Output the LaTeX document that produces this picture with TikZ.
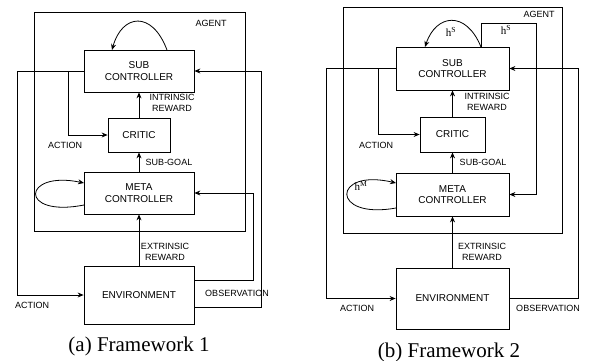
\documentclass[tikz,border=0pt]{standalone}
\usepackage{fontspec}
\setsansfont{Liberation Sans}
\setmainfont{Liberation Serif}
\usetikzlibrary{arrows.meta}
\begin{document}
\begin{tikzpicture}[x=1pt,y=-1pt,
  box/.style={draw, line width=0.8pt, font=\sffamily\fontsize{10}{11.5}\selectfont, align=center, inner sep=0pt},
  frame/.style={draw, line width=0.8pt, inner sep=0pt},
  lbl/.style={font=\sffamily\fontsize{9}{10.5}\selectfont, align=center, inner sep=0pt},
  hl/.style={font=\rmfamily\fontsize{11}{12}\selectfont, inner sep=0pt},
  captext/.style={font=\rmfamily\fontsize{21}{24}\selectfont, inner sep=0pt},
  arr/.style={line width=0.8pt, -{Stealth[length=6pt,width=5pt]}}]
\useasboundingbox (0,0) rectangle (589,361);

% ---------- Panel (a) ----------
\node[frame, minimum width=211pt, minimum height=219pt] (agentA) at (139.5,121.5) {};
\node[box, minimum width=110pt, minimum height=42pt] (subA) at (139,71) {SUB\\CONTROLLER};
\node[box, minimum width=62pt, minimum height=34pt] (criticA) at (139,135) {CRITIC};
\node[box, minimum width=110pt, minimum height=42pt] (metaA) at (139,193) {META\\CONTROLLER};
\node[box, minimum width=110pt, minimum height=58pt] (envA) at (139,295) {ENVIRONMENT};

\coordinate (laA) at (17,71);
\coordinate (brA) at (68,71);
\coordinate (raA) at (261,307);
\coordinate (obA) at (253,280);
\coordinate (s1A) at (167,50);
\coordinate (s2A) at (112,50);
\coordinate (m1A) at (84,205);
\coordinate (m2A) at (84,183);

\draw[arr] (criticA.north) -- (subA.south);
\draw[arr] (metaA.north) -- (criticA.south);
\draw[arr] (envA.north) -- (metaA.south);
\draw[arr] (subA.west) -- (laA) |- (envA.west);
\draw[arr] (brA) |- (criticA.west);
\draw[arr] (envA.east |- raA) -- (raA) |- (subA.east);
\draw[arr] (envA.east |- obA) -- (obA) |- (metaA.east);
\draw[arr] (s1A) .. controls (152,10) and (122,14) .. (s2A);
\draw[arr] (m1A) .. controls (18,218) and (22,170) .. (m2A);

\node[lbl] (agentlA) at (211,23) {AGENT};
\node[lbl] (intrA) at (172,103) {INTRINSIC\\REWARD};
\node[lbl] (act1A) at (65,145) {ACTION};
\node[lbl] (sgA) at (169,162) {SUB-GOAL};
\node[lbl] (extrA) at (165,252) {EXTRINSIC\\REWARD};
\node[lbl] (act2A) at (32,305) {ACTION};
\node[lbl] (obsA) at (237,293) {OBSERVATION};
\node[captext] (capA) at (139,346) {(a) Framework 1};

% ---------- Panel (b) ----------
\node[frame, minimum width=219pt, minimum height=226pt] (agentB) at (452.5,120) {};
\node[box, minimum width=113pt, minimum height=43pt] (subB) at (452.5,68.5) {SUB\\CONTROLLER};
\node[box, minimum width=65pt, minimum height=35pt] (criticB) at (452.5,134.5) {CRITIC};
\node[box, minimum width=113pt, minimum height=43pt] (metaB) at (452.5,194.5) {META\\CONTROLLER};
\node[box, minimum width=113pt, minimum height=61pt] (envB) at (452.5,298.5) {ENVIRONMENT};

\coordinate (laB) at (326,68.5);
\coordinate (brB) at (378,68.5);
\coordinate (raB) at (578,298.5);
\coordinate (s1B) at (481,47);
\coordinate (s2B) at (425,47);
\coordinate (hsB) at (536,23);
\coordinate (m1B) at (396,208);
\coordinate (m2B) at (396,183);

\draw[arr] (criticB.north) -- (subB.south);
\draw[arr] (metaB.north) -- (criticB.south);
\draw[arr] (envB.north) -- (metaB.south);
\draw[arr] (subB.west) -- (laB) |- (envB.west);
\draw[arr] (brB) |- (criticB.west);
\draw[arr] (envB.east) -- (raB) |- (subB.east);
\draw[arr] (s1B) |- (hsB) |- (metaB.east);
\draw[arr] (s1B) .. controls (466,10) and (436,14) .. (s2B);
\draw[arr] (m1B) .. controls (330,220) and (332,168) .. (m2B);

\node[lbl] (agentlB) at (539,14) {AGENT};
\node[hl] (hs1B) at (451,32) {h\textsuperscript{S}};
\node[hl] (hs2B) at (506,30) {h\textsuperscript{S}};
\node[hl] (hmB) at (361,186) {h\textsuperscript{M}};
\node[lbl] (intrB) at (487,102) {INTRINSIC\\REWARD};
\node[lbl] (act1B) at (376,145) {ACTION};
\node[lbl] (sgB) at (483,162) {SUB-GOAL};
\node[lbl] (extrB) at (482,252) {EXTRINSIC\\REWARD};
\node[lbl] (act2B) at (357,308) {ACTION};
\node[lbl] (obsB) at (548,308) {OBSERVATION};
\node[captext] (capB) at (449,352) {(b) Framework 2};
\end{tikzpicture}
\end{document}
